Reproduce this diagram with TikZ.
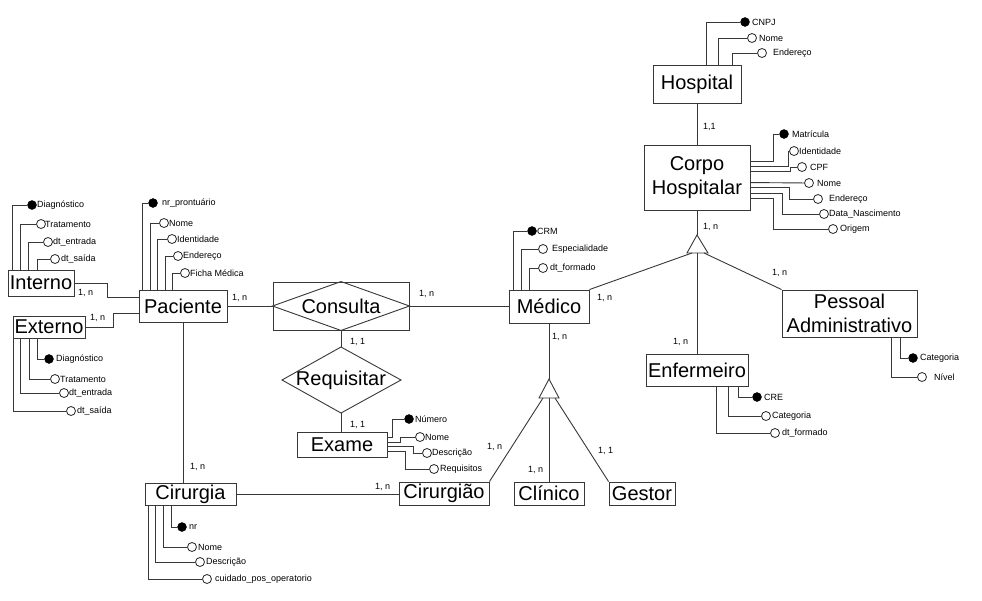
\documentclass[tikz,border=0pt]{standalone}
\usepackage{fontspec}
\setmainfont{Liberation Sans}
\usetikzlibrary{calc}
\tikzset{
  conn/.style={draw=black!78, line width=0.9pt},
  ent/.style={draw=black!78, line width=0.9pt, rectangle, inner sep=0pt, align=center, font=\fontsize{20}{24}\selectfont},
  keyattr/.style={circle, draw=black, fill=black, minimum size=9pt, inner sep=0pt},
  plainattr/.style={circle, draw=black!85, fill=white, line width=0.8pt, minimum size=9pt, inner sep=0pt},
  atxt/.style={anchor=west, inner sep=0pt, font=\fontsize{9}{10}\selectfont},
  card/.style={anchor=west, inner sep=0pt, font=\fontsize{9}{10}\selectfont},
  reltxt/.style={inner sep=0pt, font=\fontsize{20}{24}\selectfont},
}
\newcommand\att[6]{%
  \node[#2] (#1) at (#3,#4) {};
  \node[atxt] (#1t) at (#5,#4) {#6};}
\begin{document}
\begin{tikzpicture}[x=1pt,y=-1pt]
\useasboundingbox (0,0) rectangle (982,600);
\fill[white] (0,0) rectangle (982,600);

% ---------- entities ----------
\node[ent, minimum width=88pt, minimum height=38pt] (hospital) at (697,84) {Hospital};
\node[ent, minimum width=106pt, minimum height=65pt] (corpo) at (697,177.5) {Corpo\\Hospitalar};
\node[ent, minimum width=80pt, minimum height=33pt] (medico) at (549,306.5) {Médico};
\node[ent, minimum width=88pt, minimum height=32pt] (paciente) at (183,306) {Paciente};
\node[ent, minimum width=66pt, minimum height=26pt] (interno) at (41,283) {Interno};
\node[ent, minimum width=72pt, minimum height=22pt] (externo) at (49,327) {Externo};
\node[ent, minimum width=136pt, minimum height=48pt] (consulta) at (341,306) {};
\node[ent, minimum width=90pt, minimum height=25pt] (exame) at (342,445) {Exame};
\node[ent, minimum width=91pt, minimum height=22pt] (cirurgia) at (190.5,494) {Cirurgia};
\node[ent, minimum width=90pt, minimum height=23pt] (cirurgiao) at (444,493.5) {Cirurgião};
\node[ent, minimum width=70pt, minimum height=23pt] (clinico) at (549,493.5) {Clínico};
\node[ent, minimum width=66pt, minimum height=23pt] (gestor) at (642,493.5) {Gestor};
\node[ent, minimum width=102pt, minimum height=32pt] (enfermeiro) at (697,370) {Enfermeiro};
\node[ent, minimum width=135pt, minimum height=47pt] (pessoal) at (849.5,313.5) {Pessoal\\Administrativo};

% ---------- relationships ----------
\draw[conn] (consulta.west) -- (consulta.north) -- (consulta.east) -- (consulta.south) -- cycle;
\node[reltxt] (consultatxt) at (341,306) {Consulta};

\coordinate (reqN) at (341,347);
\coordinate (reqS) at (341,413);
\coordinate (reqW) at (282,380);
\coordinate (reqE) at (401,380);
\draw[conn] (reqW) -- (reqN) -- (reqE) -- (reqS) -- cycle;
\node[reltxt] (reqtxt) at (341,380) {Requisitar};

% ---------- specialisation triangles ----------
\coordinate (tA) at (697,235);
\coordinate (tAl) at (687,253);
\coordinate (tAr) at (708,253);
\coordinate (tAc) at (697,253);
\coordinate (tAlo) at (692,253);
\coordinate (tAro) at (704,253);
\draw[conn] (tA) -- (tAl) -- (tAr) -- cycle;

\coordinate (tB) at (549,379);
\coordinate (tBl) at (539,398);
\coordinate (tBr) at (559,398);
\coordinate (tBc) at (549,398);
\coordinate (tBlo) at (543,398);
\coordinate (tBro) at (555,398);
\draw[conn] (tB) -- (tBl) -- (tBr) -- cycle;

% ---------- connectors ----------
\draw[conn] (hospital.south) -- (corpo.north);
\draw[conn] (corpo.south) -- (tA);
\draw[conn] (tAlo) -- (medico.north east);
\draw[conn] (tAc) -- (enfermeiro.north);
\draw[conn] (tAro) -- (pessoal.north west);

\draw[conn] (paciente.east) -- (consulta.west);
\draw[conn] (consulta.east) -- (consulta.east -| medico.west);
\draw[conn] (consulta.south) -- (reqN);
\draw[conn] (reqS) -- (reqS |- exame.north);

\draw[conn] (interno.east) -- ++(33,0) |- ($(paciente.west)+(0,-9)$);
\draw[conn] (externo.east) -- ++(28,0) |- ($(paciente.west)+(0,7)$);
\draw[conn] (paciente.south) -- (paciente.south |- cirurgia.north);
\draw[conn] (cirurgia.east) -- (cirurgia.east -| cirurgiao.west);

\draw[conn] (medico.south) -- (tB);
\draw[conn] (tBlo) -- (cirurgiao.north east);
\draw[conn] (tBc) -- (clinico.north);
\draw[conn] (tBro) -- (gestor.north west);

% ---------- cardinalities ----------
\node[card] (c1) at (703,127) {1,1};
\node[card] (c2) at (703,227) {1, n};
\node[card] (c3) at (597,298) {1, n};
\node[card] (c4) at (772,273) {1, n};
\node[card] (c5) at (673,342) {1, n};
\node[card] (c6) at (232,298) {1, n};
\node[card] (c7) at (419,294) {1, n};
\node[card] (c8) at (350,342) {1, 1};
\node[card] (c9) at (350,425) {1, 1};
\node[card] (c10) at (78,293) {1, n};
\node[card] (c11) at (90,318) {1, n};
\node[card] (c12) at (190,467) {1, n};
\node[card] (c13) at (375,487) {1, n};
\node[card] (c14) at (487,447) {1, n};
\node[card] (c15) at (528,470) {1, n};
\node[card] (c16) at (598,451) {1, 1};
\node[card] (c17) at (552,337) {1, n};

% ---------- attributes: Hospital ----------
\att{hA}{keyattr}{745}{22}{752}{CNPJ}
\att{hB}{plainattr}{752}{38}{759}{Nome}
\att{hC}{plainattr}{762}{53}{773}{Endereço}
\draw[conn] ($(hospital.north west)+(54,0)$) |- (hA);
\draw[conn] ($(hospital.north west)+(66,0)$) |- (hB);
\draw[conn] ($(hospital.north west)+(80,0)$) |- (hC);

% ---------- attributes: Corpo Hospitalar ----------
\att{cA}{keyattr}{784}{134}{792}{Matrícula}
\att{cB}{plainattr}{794}{151}{799}{Identidade}
\att{cC}{plainattr}{802}{167}{810}{CPF}
\att{cD}{plainattr}{809}{183}{817}{Nome}
\att{cE}{plainattr}{818}{199}{829}{Endereço}
\att{cF}{plainattr}{824}{214}{829}{Data\_Nascimento}
\att{cG}{plainattr}{833}{229}{840}{Origem}
\draw[conn] ($(corpo.north east)+(0,17)$) -- ++(23,0) |- (cA);
\draw[conn] ($(corpo.north east)+(0,22)$) -- ++(38,0) |- (cB);
\draw[conn] ($(corpo.north east)+(0,27)$) -- ++(40,0) |- (cC);
\draw[conn] ($(corpo.north east)+(0,38)$) -- (cD);
\draw[conn] ($(corpo.north east)+(0,43)$) -- ++(39,0) |- (cE);
\draw[conn] ($(corpo.north east)+(0,49)$) -- ++(32,0) |- (cF);
\draw[conn] ($(corpo.north east)+(0,54)$) -- ++(23,0) |- (cG);

% ---------- attributes: Médico ----------
\att{mA}{keyattr}{532}{231}{537}{CRM}
\att{mB}{plainattr}{543}{249}{552}{Especialidade}
\att{mC}{plainattr}{543}{268}{550}{dt\_formado}
\draw[conn] ($(medico.north west)+(5,0)$) |- (mA);
\draw[conn] ($(medico.north west)+(13,0)$) |- (mB);
\draw[conn] ($(medico.north west)+(21,0)$) |- (mC);

% ---------- attributes: Paciente ----------
\att{pA}{keyattr}{153}{203}{162}{nr\_prontuário}
\att{pB}{plainattr}{164}{223}{169}{Nome}
\att{pC}{plainattr}{172}{239}{177}{Identidade}
\att{pD}{plainattr}{178}{256}{183}{Endereço}
\att{pE}{plainattr}{185}{273}{190}{Ficha Médica}
\draw[conn] ($(paciente.north west)+(4,0)$) |- (pA);
\draw[conn] ($(paciente.north west)+(12,0)$) |- (pB);
\draw[conn] ($(paciente.north west)+(19,0)$) |- (pC);
\draw[conn] ($(paciente.north west)+(27,0)$) |- (pD);
\draw[conn] ($(paciente.north west)+(34,0)$) |- (pE);

% ---------- attributes: Interno ----------
\att{iA}{keyattr}{32}{205}{37}{Diagnóstico}
\att{iB}{plainattr}{41}{224}{45}{Tratamento}
\att{iC}{plainattr}{48}{242}{53}{dt\_entrada}
\att{iD}{plainattr}{55}{259}{61}{dt\_saída}
\draw[conn] ($(interno.north west)+(5,0)$) |- (iA);
\draw[conn] ($(interno.north west)+(13,0)$) |- (iB);
\draw[conn] ($(interno.north west)+(21,0)$) |- (iC);
\draw[conn] ($(interno.north west)+(30,0)$) |- (iD);

% ---------- attributes: Externo ----------
\att{eA}{keyattr}{49}{359}{56}{Diagnóstico}
\att{eB}{plainattr}{55}{379}{60}{Tratamento}
\att{eC}{plainattr}{64}{393}{69}{dt\_entrada}
\att{eD}{plainattr}{71}{411}{77}{dt\_saída}
\draw[conn] ($(externo.south west)+(25,0)$) |- (eA);
\draw[conn] ($(externo.south west)+(17,0)$) |- (eB);
\draw[conn] ($(externo.south west)+(8,0)$) |- (eC);
\draw[conn] ($(externo.south west)+(1,0)$) |- (eD);

% ---------- attributes: Cirurgia ----------
\att{sA}{keyattr}{182}{527}{189}{nr}
\att{sB}{plainattr}{192}{547}{198}{Nome}
\att{sC}{plainattr}{200}{562}{206}{Descrição}
\att{sD}{plainattr}{207}{579}{215}{cuidado\_pos\_operatorio}
\draw[conn] ($(cirurgia.south west)+(27,0)$) |- (sA);
\draw[conn] ($(cirurgia.south west)+(19,0)$) |- (sB);
\draw[conn] ($(cirurgia.south west)+(11,0)$) |- (sC);
\draw[conn] ($(cirurgia.south west)+(4,0)$) |- (sD);

% ---------- attributes: Exame ----------
\att{xA}{keyattr}{409}{419}{415}{Número}
\att{xB}{plainattr}{420}{437}{425}{Nome}
\att{xC}{plainattr}{427}{453}{432}{Descrição}
\att{xD}{plainattr}{434}{469}{440}{Requisitos}
\draw[conn] ($(exame.north east)+(0,5)$) -- ++(5,0) |- (xA);
\draw[conn] ($(exame.north east)+(0,10)$) -- ++(13,0) |- (xB);
\draw[conn] ($(exame.north east)+(0,14)$) -- ++(26,0) |- (xC);
\draw[conn] ($(exame.north east)+(0,19)$) -- ++(18,0) |- (xD);

% ---------- attributes: Enfermeiro ----------
\att{nA}{keyattr}{757}{397}{764}{CRE}
\att{nB}{plainattr}{766}{416}{772}{Categoria}
\att{nC}{plainattr}{775}{433}{782}{dt\_formado}
\draw[conn] ($(enfermeiro.south west)+(93,0)$) |- (nA);
\draw[conn] ($(enfermeiro.south west)+(83,0)$) |- (nB);
\draw[conn] ($(enfermeiro.south west)+(71,0)$) |- (nC);

% ---------- attributes: Pessoal Administrativo ----------
\att{aA}{keyattr}{913}{358}{920}{Categoria}
\att{aB}{plainattr}{922}{377}{934}{Nível}
\draw[conn] ($(pessoal.south west)+(119,0)$) |- (aA);
\draw[conn] ($(pessoal.south west)+(110,0)$) |- (aB);
\end{tikzpicture}
\end{document}
